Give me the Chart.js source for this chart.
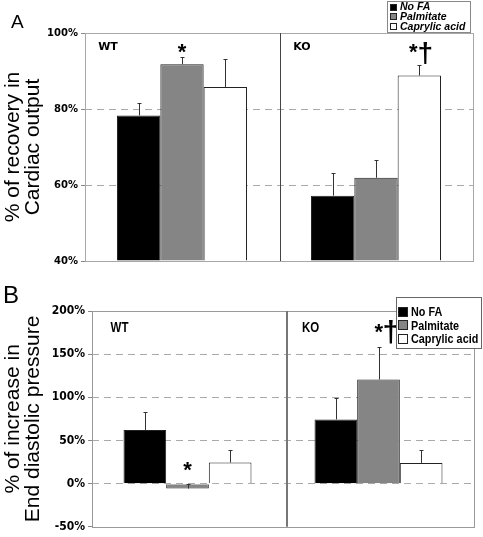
<!DOCTYPE html>
<html>
<head>
<meta charset="utf-8">
<script src="https://cdn.jsdelivr.net/npm/chart.js@4"></script>
<style>
  body { margin: 0; background: #fff; }
  #wrap { position: relative; width: 483px; height: 537px; }
  canvas { position: absolute; left: 0; }
</style>
</head>
<body>
<div id="wrap">
  <canvas id="chartA" width="483" height="270" style="top:0"></canvas>
  <canvas id="chartB" width="483" height="267" style="top:270px"></canvas>
</div>
<script>
const groups = ["WT", "KO"];
const seriesNames = ["No FA", "Palmitate", "Caprylic acid"];
const seriesColors = ["#000000", "#858585", "#ffffff"];

// Panel A - % of recovery in cardiac output
const recNoFA = [78.3, 57.2];
const recPalm = [91.8, 61.9];
const recCapr = [85.8, 88.8];
const recNoFAErr = [3.4, 5.9];
const recPalmErr = [2.0, 4.6];
const recCaprErr = [7.3, 2.9];
const ticksA = [40, 60, 80, 100];
const titleA = ["% of recovery in", "Cardiac output"];
// significance marks: group, series, text, value (y)
const marksA = [
  { group: 0, series: 1, text: "*", at: 96.3, dx: 0 },
  { group: 1, series: 2, text: "*", at: 96.3, dx: -6 },
  { group: 1, series: 2, text: "\u2020", at: 94.3, dx: 6 }
];

// Panel B - % of increase in end diastolic pressure
const edpNoFA = [62.2, 74.4];
const edpPalm = [-5.7, 120.6];
const edpCapr = [24.5, 24.0];
const edpNoFAErr = [20.6, 24.5];
const edpPalmErr = [5.5, 37.7];
const edpCaprErr = [14.4, 15.4];
const ticksB = [-50, 0, 50, 100, 150, 200];
const titleB = ["% of increase in", "End diastolic pressure"];
const marksB = [
  { group: 0, series: 1, text: "*", at: 21.7, dx: 0 },
  { group: 1, series: 0, text: "*", at: 182, dx: 43 },
  { group: 1, series: 0, text: "\u2020", at: 174, dx: 55 }
];

// text squeezed horizontally (stand-in for a narrow face)
function squeezed(ctx, txt, x, y, k) {
  ctx.save();
  ctx.translate(x, y);
  ctx.scale(k, 1);
  ctx.fillText(txt, 0, 0);
  ctx.restore();
}

// draws frame, divider, error bars, labels, legend and panel letter
const decor = {
  id: "decor",
  afterDatasetsDraw(chart, args, o) {
    const ctx = chart.ctx;
    const a = chart.chartArea;
    const xs = chart.scales.x, ys = chart.scales.y;
    ctx.save();

    // error bars
    chart.data.datasets.forEach((ds, i) => {
      const meta = chart.getDatasetMeta(i);
      meta.data.forEach((bar, j) => {
        const v = ds.data[j], e = ds.errors[j];
        const x = Math.round(bar.x) + 0.5;
        const y0 = ys.getPixelForValue(v);
        const y1 = Math.round(ys.getPixelForValue(v + e)) + 0.5;
        ctx.strokeStyle = "#333";
        ctx.lineWidth = 1;
        ctx.beginPath();
        ctx.moveTo(x, y0);
        ctx.lineTo(x, y1);
        ctx.moveTo(x - 2, y1);
        ctx.lineTo(x + 2, y1);
        ctx.stroke();
      });
    });

    // frame
    ctx.strokeStyle = o.frameColor;
    ctx.lineWidth = 1;
    ctx.strokeRect(Math.round(a.left) + 0.5, Math.round(a.top) + 0.5,
      Math.round(a.right - a.left), Math.round(a.bottom - a.top));

    // divider between the groups
    const mid = (xs.getPixelForValue(0) + xs.getPixelForValue(1)) / 2 + o.divShift;
    const off = o.divWidth % 2 ? 0.5 : 0;
    ctx.strokeStyle = o.divColor;
    ctx.lineWidth = o.divWidth;
    ctx.beginPath();
    ctx.moveTo(Math.round(mid) + off, a.top);
    ctx.lineTo(Math.round(mid) + off, a.bottom);
    ctx.stroke();

    // group labels
    ctx.fillStyle = "#000";
    ctx.font = o.groupFont;
    ctx.textAlign = "center";
    ctx.textBaseline = "middle";
    chart.data.labels.forEach((g, i) => {
      squeezed(ctx, g, xs.getPixelForValue(i) + o.groupDx, ys.getPixelForValue(o.groupAt), o.groupSqueeze);
    });

    // significance marks
    o.marks.forEach(m => {
      const bar = chart.getDatasetMeta(m.series).data[m.group];
      const y = ys.getPixelForValue(m.at);
      if (m.text === "*") {
        ctx.font = o.starFont;
        ctx.textBaseline = "alphabetic";
        ctx.fillText(m.text, bar.x + m.dx, y + o.starDrop);
      } else {
        ctx.font = o.daggerFont;
        ctx.textBaseline = "middle";
        ctx.fillText(m.text, bar.x + m.dx, y);
      }
    });

    // legend
    const L = o.legend;
    ctx.fillStyle = "#fff";
    ctx.fillRect(L.x, L.y, L.w, L.h);
    ctx.strokeStyle = L.border;
    ctx.lineWidth = 1;
    ctx.strokeRect(L.x + 0.5, L.y + 0.5, L.w, L.h);
    ctx.font = L.font;
    ctx.textAlign = "left";
    ctx.textBaseline = "middle";
    chart.data.datasets.forEach((ds, i) => {
      const cy = L.y + L.first + i * L.row;
      const sy = Math.round(cy - L.sw / 2);
      ctx.fillStyle = ds.backgroundColor;
      ctx.fillRect(L.x + L.sx, sy, L.sw, L.sw);
      ctx.strokeStyle = "#222";
      ctx.strokeRect(L.x + L.sx + 0.5, sy + 0.5, L.sw - 1, L.sw - 1);
      ctx.fillStyle = "#000";
      squeezed(ctx, ds.label, L.x + L.tx, cy + 0.5, L.squeeze);
    });

    // panel letter
    ctx.font = o.letterFont;
    ctx.textBaseline = "alphabetic";
    ctx.fillText(o.letter, o.letterX, o.letterY);
    ctx.restore();
  }
};

function makeChart(id, vals, errs, ticks, title, tickFont, axisW, pad, base, extra) {
  const lo = ticks[0], hi = ticks[ticks.length - 1];
  return new Chart(document.getElementById(id), {
    type: "bar",
    data: {
      labels: groups,
      datasets: seriesNames.map((name, i) => ({
        label: name,
        data: vals[i],
        errors: errs[i],
        backgroundColor: seriesColors[i],
        borderColor: "#222",
        borderWidth: 1,
        base: base,
        categoryPercentage: 0.67,
        barPercentage: 1.0
      }))
    },
    options: {
      responsive: false,
      animation: false,
      devicePixelRatio: 1,
      layout: { padding: pad },
      plugins: { legend: { display: false }, tooltip: { enabled: false }, decor: extra },
      scales: {
        x: { display: false },
        y: {
          min: lo,
          max: hi,
          afterFit: s => { s.width = axisW; },
          ticks: {
            stepSize: ticks[1] - ticks[0],
            callback: v => v + "%",
            color: "#000",
            font: tickFont,
            padding: 3
          },
          grid: {
            color: c => (c.tick && c.tick.value > lo && c.tick.value < hi) ? "#aaa" : "rgba(0,0,0,0)",
            tickColor: "#888",
            tickLength: 4,
            lineWidth: 1
          },
          border: { display: false, dash: [7, 5] },
          title: {
            display: true,
            text: title,
            color: "#000",
            font: { family: "'Liberation Sans', Arial, sans-serif", size: 21, lineHeight: 0.95 },
            padding: { top: 3, bottom: 0 }
          }
        }
      }
    },
    plugins: [decor]
  });
}

makeChart("chartA",
  [recNoFA, recPalm, recCapr], [recNoFAErr, recPalmErr, recCaprErr],
  ticksA, titleA,
  { family: "'DejaVu Sans', Verdana, sans-serif", size: 10, weight: "bold" },
  85, { top: 33, right: 10, bottom: 8, left: 0 }, 40,
  {
    frameColor: "#a8a8a8", divColor: "#444", divWidth: 1, divShift: 1,
    groupFont: "bold 11px 'DejaVu Sans', Verdana, sans-serif", groupDx: -74, groupAt: 96.3, groupSqueeze: 1,
    marks: marksA, starFont: "bold 22px 'Liberation Sans', Arial, sans-serif", starDrop: 12,
    daggerFont: "bold 28px 'Liberation Sans', Arial, sans-serif",
    legend: { x: 387, y: 1, w: 83, h: 31, border: "#888", first: 6, row: 9.6, sw: 7, sx: 3, tx: 13, squeeze: 1,
      font: "italic bold 10.5px 'Liberation Sans', Arial, sans-serif" },
    letter: "A", letterX: 11, letterY: 28, letterFont: "19px 'Liberation Sans', Arial, sans-serif"
  });

makeChart("chartB",
  [edpNoFA, edpPalm, edpCapr], [edpNoFAErr, edpPalmErr, edpCaprErr],
  ticksB, titleB,
  { family: "'DejaVu Sans Condensed', 'Liberation Sans', Arial, sans-serif", size: 12, weight: "bold" },
  92, { top: 41, right: 9, bottom: 8, left: 0 }, 0,
  {
    frameColor: "#999", divColor: "#777", divWidth: 2, divShift: 4,
    groupFont: "bold 14px 'Liberation Sans', Arial, sans-serif", groupDx: -68, groupAt: 180.4, groupSqueeze: 0.82,
    marks: marksB, starFont: "bold 22px 'Liberation Sans', Arial, sans-serif", starDrop: 12,
    daggerFont: "bold 30px 'Liberation Sans', Arial, sans-serif",
    legend: { x: 396, y: 27, w: 85, h: 51, border: "#666", first: 15, row: 13.3, sw: 10, sx: 2, tx: 15, squeeze: 0.8,
      font: "bold 13.5px 'Liberation Sans', Arial, sans-serif" },
    letter: "B", letterX: 3, letterY: 33, letterFont: "24px 'Liberation Sans', Arial, sans-serif"
  });
</script>
</body>
</html>
